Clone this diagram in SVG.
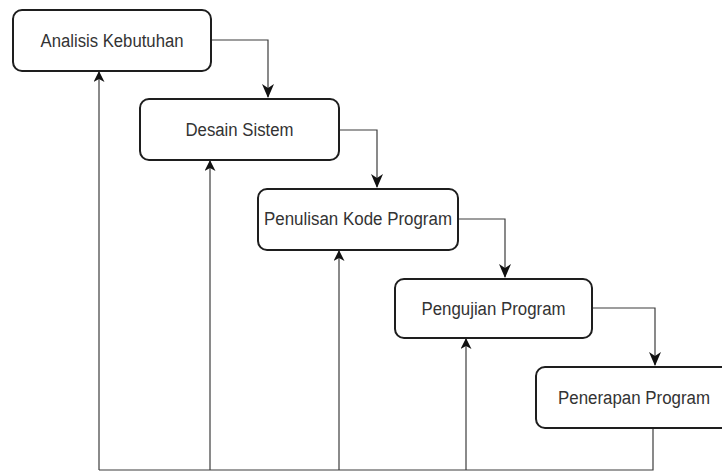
<svg xmlns="http://www.w3.org/2000/svg" width="722" height="472" viewBox="0 0 722 472">
<defs>
<style>
.box{fill:#fff;stroke:#1e1e1e;stroke-width:2}
.lbl{font-family:"Liberation Sans",Arial,sans-serif;font-size:18px;fill:#333;text-anchor:middle}
.con{fill:none;stroke:#3c3c3c;stroke-width:1.2}
</style>
<marker id="arr" viewBox="0 0 14 12" refX="13" refY="6" markerWidth="14" markerHeight="12" markerUnits="userSpaceOnUse" orient="auto">
<path d="M0,0 L14,6 L0,12 L4,6 Z" fill="#111"/>
</marker>
<marker id="arrs" viewBox="0 0 11 11" refX="10" refY="5.5" markerWidth="11" markerHeight="11" markerUnits="userSpaceOnUse" orient="auto">
<path d="M0,0 L11,5.5 L0,11 L3,5.5 Z" fill="#111"/>
</marker>
</defs>
<rect width="722" height="472" fill="#fff"/>
<g id="connectors">
<path class="con" d="M211,40 H268 V97" marker-end="url(#arr)"/>
<path class="con" d="M339,130 H377 V187" marker-end="url(#arr)"/>
<path class="con" d="M458,219 H505 V277" marker-end="url(#arr)"/>
<path class="con" d="M592,308 H655 V365" marker-end="url(#arr)"/>
<path class="con" d="M653,428 V470 H99"/>
<path class="con" d="M99,470 V72" marker-end="url(#arrs)"/>
<path class="con" d="M210,470 V161" marker-end="url(#arrs)"/>
<path class="con" d="M339,470 V251" marker-end="url(#arrs)"/>
<path class="con" d="M466,470 V339" marker-end="url(#arrs)"/>
</g>
<g id="analisis">
<rect class="box" x="13" y="10" width="198" height="61" rx="9"/>
<text class="lbl" x="112" y="46.5" textLength="143" lengthAdjust="spacingAndGlyphs">Analisis Kebutuhan</text>
</g>
<g id="desain">
<rect class="box" x="140" y="99" width="199" height="61" rx="9"/>
<text class="lbl" x="239.5" y="136" textLength="108" lengthAdjust="spacingAndGlyphs">Desain Sistem</text>
</g>
<g id="penulisan">
<rect class="box" x="258" y="189" width="200" height="61" rx="9"/>
<text class="lbl" x="358" y="225" textLength="188" lengthAdjust="spacingAndGlyphs">Penulisan Kode Program</text>
</g>
<g id="pengujian">
<rect class="box" x="395" y="279" width="197" height="59" rx="9"/>
<text class="lbl" x="493.5" y="314.5" textLength="144" lengthAdjust="spacingAndGlyphs">Pengujian Program</text>
</g>
<g id="penerapan">
<rect class="box" x="536" y="367" width="197" height="61" rx="9"/>
<text class="lbl" x="634" y="404" textLength="152" lengthAdjust="spacingAndGlyphs">Penerapan Program</text>
</g>
</svg>
